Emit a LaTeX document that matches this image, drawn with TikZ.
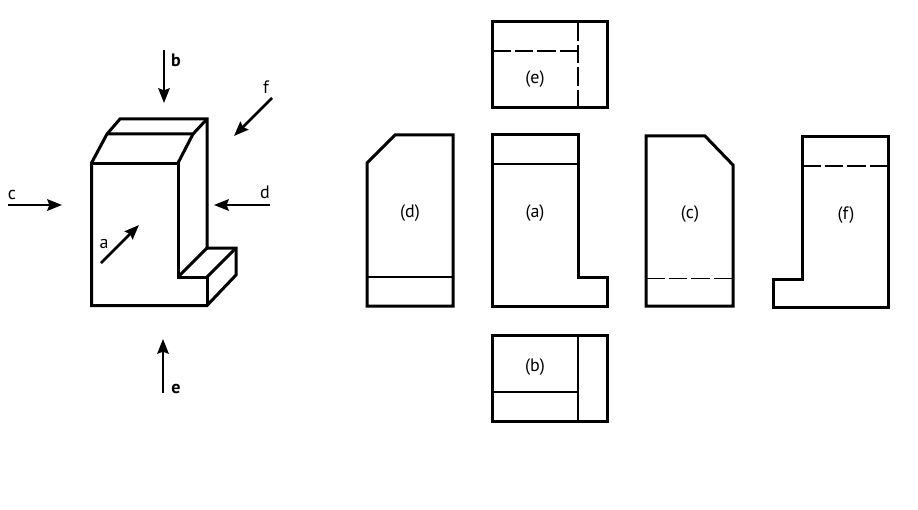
\documentclass[tikz,border=0pt]{standalone}
\usepackage{fontspec}
\setmainfont{PT Sans}
\usetikzlibrary{arrows.meta}
\tikzset{
  px/.style={x=0.75pt,y=-0.75pt},
  outline/.style={line width=2.25pt,line join=miter,black},
  thinline/.style={line width=2pt,black},
  hidden/.style={line width=1.2pt,black,dash pattern=on 14pt off 3pt},
  viewarrow/.style={line width=1.9pt,-{Stealth[length=11pt,width=8.5pt,inset=1.5pt]}},
  lab/.style={inner sep=0pt,font=\fontsize{13.5pt}{14pt}\selectfont},
  blab/.style={lab,font=\fontsize{13.5pt}{14pt}\selectfont\bfseries}
}
\begin{document}
\begin{tikzpicture}[px]
\useasboundingbox (0,0) rectangle (918,510);
% isometric object
\draw[outline] (91.5,305.5) -- (91.5,163) -- (107,134) -- (120,119) -- (207,119) -- (207,248) -- (236,248) -- (236,275) -- (207,305.5) -- cycle;
\draw[outline] (91.5,163) -- (178,163) -- (178,277) -- (207,277) -- (207,305.5);
\draw[outline] (107,134) -- (193,134) -- (207,119);
\draw[outline] (193,134) -- (178,163);
\draw[outline] (178,277) -- (207,248);
\draw[outline] (207,277) -- (236,248);
% direction arrows
\coordinate (bs) at (164,50);  \coordinate (bt) at (164,103);
\coordinate (es) at (163,393); \coordinate (et) at (163,339);
\coordinate (cs) at (8,205);   \coordinate (ct) at (62,205);
\coordinate (ds) at (270,205); \coordinate (dt) at (214,205);
\coordinate (fs) at (272,98);  \coordinate (ft) at (234,136);
\coordinate (as) at (101,263); \coordinate (at) at (139,225);
\draw[viewarrow] (bs) -- (bt);
\draw[viewarrow] (es) -- (et);
\draw[viewarrow] (cs) -- (ct);
\draw[viewarrow] (ds) -- (dt);
\draw[viewarrow] (fs) -- (ft);
\draw[viewarrow] (as) -- (at);
\node[blab] (lb) at (176,60) {b};
\node[blab] (le) at (176,389) {e};
\node[lab] (lc) at (12,195) {c};
\node[lab] (ld) at (265,192.5) {d};
\node[lab] (lf) at (266,87) {f};
\node[lab] (la) at (104,244) {a};
% view e
\draw[outline] (492,22) rectangle (607,107.5);
\draw[hidden] (492,51) -- (578,51);
\draw[hidden] (578,22) -- (578,107.5);
\node[lab] (ve) at (535,79) {(e)};
% view d
\draw[outline] (367,163) -- (395,135) -- (453,135) -- (453,306) -- (367,306) -- cycle;
\draw[thinline] (367,277) -- (453,277);
\node[lab] (vd) at (410,213) {(d)};
% view a
\draw[outline] (492,135) -- (578,135) -- (578,277) -- (607,277) -- (607,306) -- (492,306) -- cycle;
\draw[thinline] (492,164) -- (578,164);
\node[lab] (va) at (535,213) {(a)};
% view c
\draw[outline] (646,136) -- (705,136) -- (733,165) -- (733,306) -- (646,306) -- cycle;
\draw[hidden] (646,278.5) -- (733,278.5);
\node[lab] (vc) at (690,214) {(c)};
% view f
\draw[outline] (802,137) -- (888,137) -- (888,307) -- (773,307) -- (773,279) -- (802,279) -- cycle;
\draw[hidden] (802,166) -- (888,166);
\node[lab] (vf) at (846,215) {(f)};
% view b
\draw[outline] (492,335) rectangle (607,421);
\draw[thinline] (578,335) -- (578,421);
\draw[thinline] (492,392) -- (578,392);
\node[lab] (vb) at (535,367) {(b)};
\end{tikzpicture}
\end{document}
